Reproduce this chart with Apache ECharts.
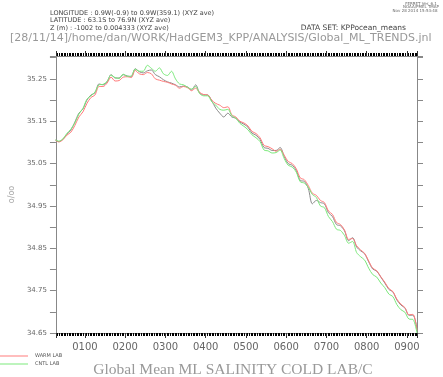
<!DOCTYPE html>
<html>
<head>
<meta charset="utf-8">
<script src="https://cdn.jsdelivr.net/npm/echarts@6/dist/echarts.min.js"></script>
<style>
  html, body { margin: 0; padding: 0; background: #fff; }
  #chart { width: 443px; height: 377px; }
</style>
</head>
<body>
<div id="chart"></div>
<script>
// model years (sampled every 10 years)
var years = [27, 35, 45, 55, 65, 75, 85, 95, 105, 115, 125, 135, 145, 155, 165, 175, 185, 195, 205, 215,
  225, 235, 245, 255, 265, 275, 285, 295, 305, 315, 325, 335, 345, 355, 365, 375, 385, 395, 405, 415,
  425, 435, 445, 455, 465, 475, 485, 495, 505, 515, 525, 535, 545, 555, 565, 575, 585, 595, 605, 615,
  625, 635, 645, 655, 665, 675, 685, 695, 705, 715, 725, 735, 745, 755, 765, 775, 785, 795, 805, 815,
  825, 835, 845, 855, 865, 875, 885, 895, 905, 915, 925]

// COLD LAB (grey)
var coldLab = [35.105, 35.102, 35.107, 35.119, 35.129, 35.148, 35.169, 35.179, 35.200, 35.212,
  35.217, 35.238, 35.236, 35.243, 35.260, 35.252, 35.252, 35.260, 35.257, 35.255,
  35.274, 35.267, 35.264, 35.269, 35.271, 35.260, 35.255, 35.248, 35.243, 35.240,
  35.236, 35.231, 35.233, 35.231, 35.224, 35.236, 35.217, 35.212, 35.212, 35.198,
  35.181, 35.169, 35.160, 35.169, 35.160, 35.157, 35.148, 35.143, 35.136, 35.122,
  35.117, 35.107, 35.088, 35.086, 35.081, 35.081, 35.088, 35.067, 35.050, 35.046,
  35.034, 35.010, 35.008, 34.991, 34.955, 34.963, 34.958, 34.955, 34.934, 34.925,
  34.906, 34.903, 34.891, 34.868, 34.875, 34.853, 34.844, 34.837, 34.818, 34.801,
  34.796, 34.782, 34.768, 34.753, 34.747, 34.728, 34.716, 34.709, 34.692, 34.692, 34.659]

// WARM LAB (red)
var warmLab = [35.105, 35.101, 35.106, 35.117, 35.124, 35.140, 35.160, 35.172, 35.192, 35.206,
  35.212, 35.232, 35.232, 35.240, 35.254, 35.245, 35.246, 35.254, 35.255, 35.253,
  35.270, 35.262, 35.260, 35.265, 35.262, 35.250, 35.247, 35.244, 35.242, 35.238,
  35.235, 35.228, 35.232, 35.229, 35.222, 35.228, 35.218, 35.213, 35.212, 35.200,
  35.192, 35.188, 35.182, 35.184, 35.165, 35.160, 35.150, 35.146, 35.139, 35.126,
  35.121, 35.111, 35.093, 35.090, 35.085, 35.079, 35.084, 35.070, 35.055, 35.050,
  35.038, 35.016, 35.012, 34.998, 34.980, 34.975, 34.963, 34.958, 34.938, 34.930,
  34.911, 34.906, 34.893, 34.871, 34.873, 34.856, 34.846, 34.838, 34.820, 34.803,
  34.797, 34.783, 34.770, 34.755, 34.748, 34.730, 34.718, 34.710, 34.693, 34.694, 34.656]

// CNTL LAB (green)
var cntlLab = [35.106, 35.103, 35.108, 35.121, 35.131, 35.146, 35.167, 35.180, 35.202, 35.210,
  35.219, 35.236, 35.237, 35.244, 35.259, 35.253, 35.251, 35.261, 35.256, 35.257,
  35.273, 35.268, 35.268, 35.282, 35.275, 35.268, 35.276, 35.262, 35.258, 35.268,
  35.250, 35.238, 35.236, 35.230, 35.226, 35.232, 35.215, 35.210, 35.210, 35.196,
  35.188, 35.178, 35.176, 35.178, 35.163, 35.157, 35.145, 35.138, 35.130, 35.118,
  35.111, 35.102, 35.082, 35.080, 35.075, 35.076, 35.082, 35.062, 35.046, 35.042,
  35.030, 35.007, 35.004, 34.994, 34.977, 34.970, 34.950, 34.946, 34.925, 34.913,
  34.895, 34.892, 34.880, 34.862, 34.866, 34.840, 34.830, 34.822, 34.803, 34.788,
  34.782, 34.768, 34.757, 34.742, 34.736, 34.717, 34.705, 34.699, 34.683, 34.682, 34.650]

function pairs(vals) {
  return years.map(function (y, i) { return [y, vals[i]] })
}

var chart = echarts.init(document.getElementById('chart'), null, { renderer: 'canvas' })

var xCommon = {
  type: 'value',
  min: 28,
  max: 925,
  splitNumber: 9,
  minInterval: 100,
  maxInterval: 100,
  axisLine: { show: true, lineStyle: { color: '#888', width: 1 } },
  axisTick: { show: true, inside: false, length: 5, lineStyle: { color: '#333' } },
  minorTick: { show: true, splitNumber: 25, length: 3, lineStyle: { color: '#000', width: 1 } },
  splitLine: { show: false }
}

var yCommon = {
  type: 'value',
  min: 34.65,
  max: 35.304,
  interval: 0.05,
  axisLine: { show: true, lineStyle: { color: '#888', width: 1 } },
  axisTick: { show: true, inside: false, length: 6, lineStyle: { color: '#888' } },
  splitLine: { show: false }
}

var option = {
  animation: false,
  backgroundColor: '#fff',
  grid: { left: 50, right: 26, top: 56, bottom: 44, containLabel: false },
  xAxis: [
    Object.assign({}, xCommon, {
      position: 'bottom',
      axisLabel: {
        showMinLabel: false,
        showMaxLabel: false,
        margin: 9,
        color: '#666',
        fontFamily: 'DejaVu Sans',
        fontSize: 10,
        formatter: function (v) { return String(v).padStart(4, '0') }
      }
    }),
    Object.assign({}, xCommon, {
      position: 'top',
      axisLabel: { show: false }
    })
  ],
  yAxis: [
    Object.assign({}, yCommon, {
      position: 'left',
      name: 'o/oo',
      nameLocation: 'middle',
      nameGap: 36,
      nameRotate: 90,
      nameTextStyle: { color: '#aaa', fontSize: 8, fontFamily: 'DejaVu Sans' },
      axisLabel: {
        margin: 9,
        color: '#666',
        fontFamily: 'DejaVu Sans',
        fontSize: 7,
        formatter: function (v) {
          var k = Math.round((v - 34.65) / 0.05)
          return k % 2 === 0 ? v.toFixed(2) : ''
        }
      }
    }),
    Object.assign({}, yCommon, {
      position: 'right',
      axisLabel: { show: false }
    })
  ],
  legend: {
    data: ['WARM LAB', 'CNTL LAB'],
    orient: 'vertical',
    left: 0,
    top: 353,
    icon: 'rect',
    itemWidth: 28,
    itemHeight: 1,
    itemGap: 2,
    selectedMode: false,
    padding: 0,
    textStyle: { fontSize: 5, lineHeight: 6, color: '#555', fontFamily: 'DejaVu Sans', padding: [0, 0, 0, 2] }
  },
  graphic: [
    { type: 'text', x: 50, y: 13.5, style: { text: 'LONGITUDE : 0.9W(-0.9) to 0.9W(359.1) (XYZ ave)', font: '6.5px "DejaVu Sans"', fill: '#444', verticalAlign: 'middle' } },
    { type: 'text', x: 50, y: 20.8, style: { text: 'LATITUDE : 63.1S to 76.9N (XYZ ave)', font: '6.5px "DejaVu Sans"', fill: '#444', verticalAlign: 'middle' } },
    { type: 'text', x: 50, y: 28, style: { text: 'Z (m) : -1002 to 0.004333 (XYZ ave)', font: '6.5px "DejaVu Sans"', fill: '#444', verticalAlign: 'middle' } },
    { type: 'text', x: 406, y: 28, style: { text: 'DATA SET: KPPocean_means', font: '7.5px "DejaVu Sans"', fill: '#444', align: 'right', verticalAlign: 'middle' } },
    { type: 'text', x: 10, y: 38, style: { text: '[28/11/14]/home/dan/WORK/HadGEM3_KPP/ANALYSIS/Global_ML_TRENDS.jnl', font: '11px "DejaVu Sans"', fill: '#999', verticalAlign: 'middle' } },
    { type: 'text', x: 421, y: 3.5, style: { text: 'FERRET Ver. 6.1', font: '4px "DejaVu Sans"', fill: '#666', align: 'center', verticalAlign: 'middle' } },
    { type: 'text', x: 421, y: 7, style: { text: 'NOAA/PMEL TMAP', font: '4px "DejaVu Sans"', fill: '#666', align: 'center', verticalAlign: 'middle' } },
    { type: 'text', x: 415, y: 10.5, style: { text: 'Nov 28 2014 15:53:48', font: '4px "DejaVu Sans"', fill: '#666', align: 'center', verticalAlign: 'middle' } },
    { type: 'text', x: 233, y: 370, style: { text: 'Global Mean ML SALINITY COLD LAB/C', font: '15.5px "Liberation Serif"', fill: '#999', align: 'center', verticalAlign: 'middle' } }
  ],
  series: [
    {
      name: 'COLD LAB',
      type: 'line',
      data: pairs(coldLab),
      showSymbol: false,
      smooth: 0.3,
      lineStyle: { color: '#8a8a8a', width: 1 },
      itemStyle: { color: '#8a8a8a' }
    },
    {
      name: 'WARM LAB',
      type: 'line',
      data: pairs(warmLab),
      showSymbol: false,
      smooth: 0.3,
      lineStyle: { color: '#ff7a7a', width: 1 },
      itemStyle: { color: '#ff7a7a' }
    },
    {
      name: 'CNTL LAB',
      type: 'line',
      data: pairs(cntlLab),
      showSymbol: false,
      smooth: 0.3,
      lineStyle: { color: '#7ae87a', width: 1 },
      itemStyle: { color: '#7ae87a' }
    }
  ]
}

chart.setOption(option)
</script>
</body>
</html>
